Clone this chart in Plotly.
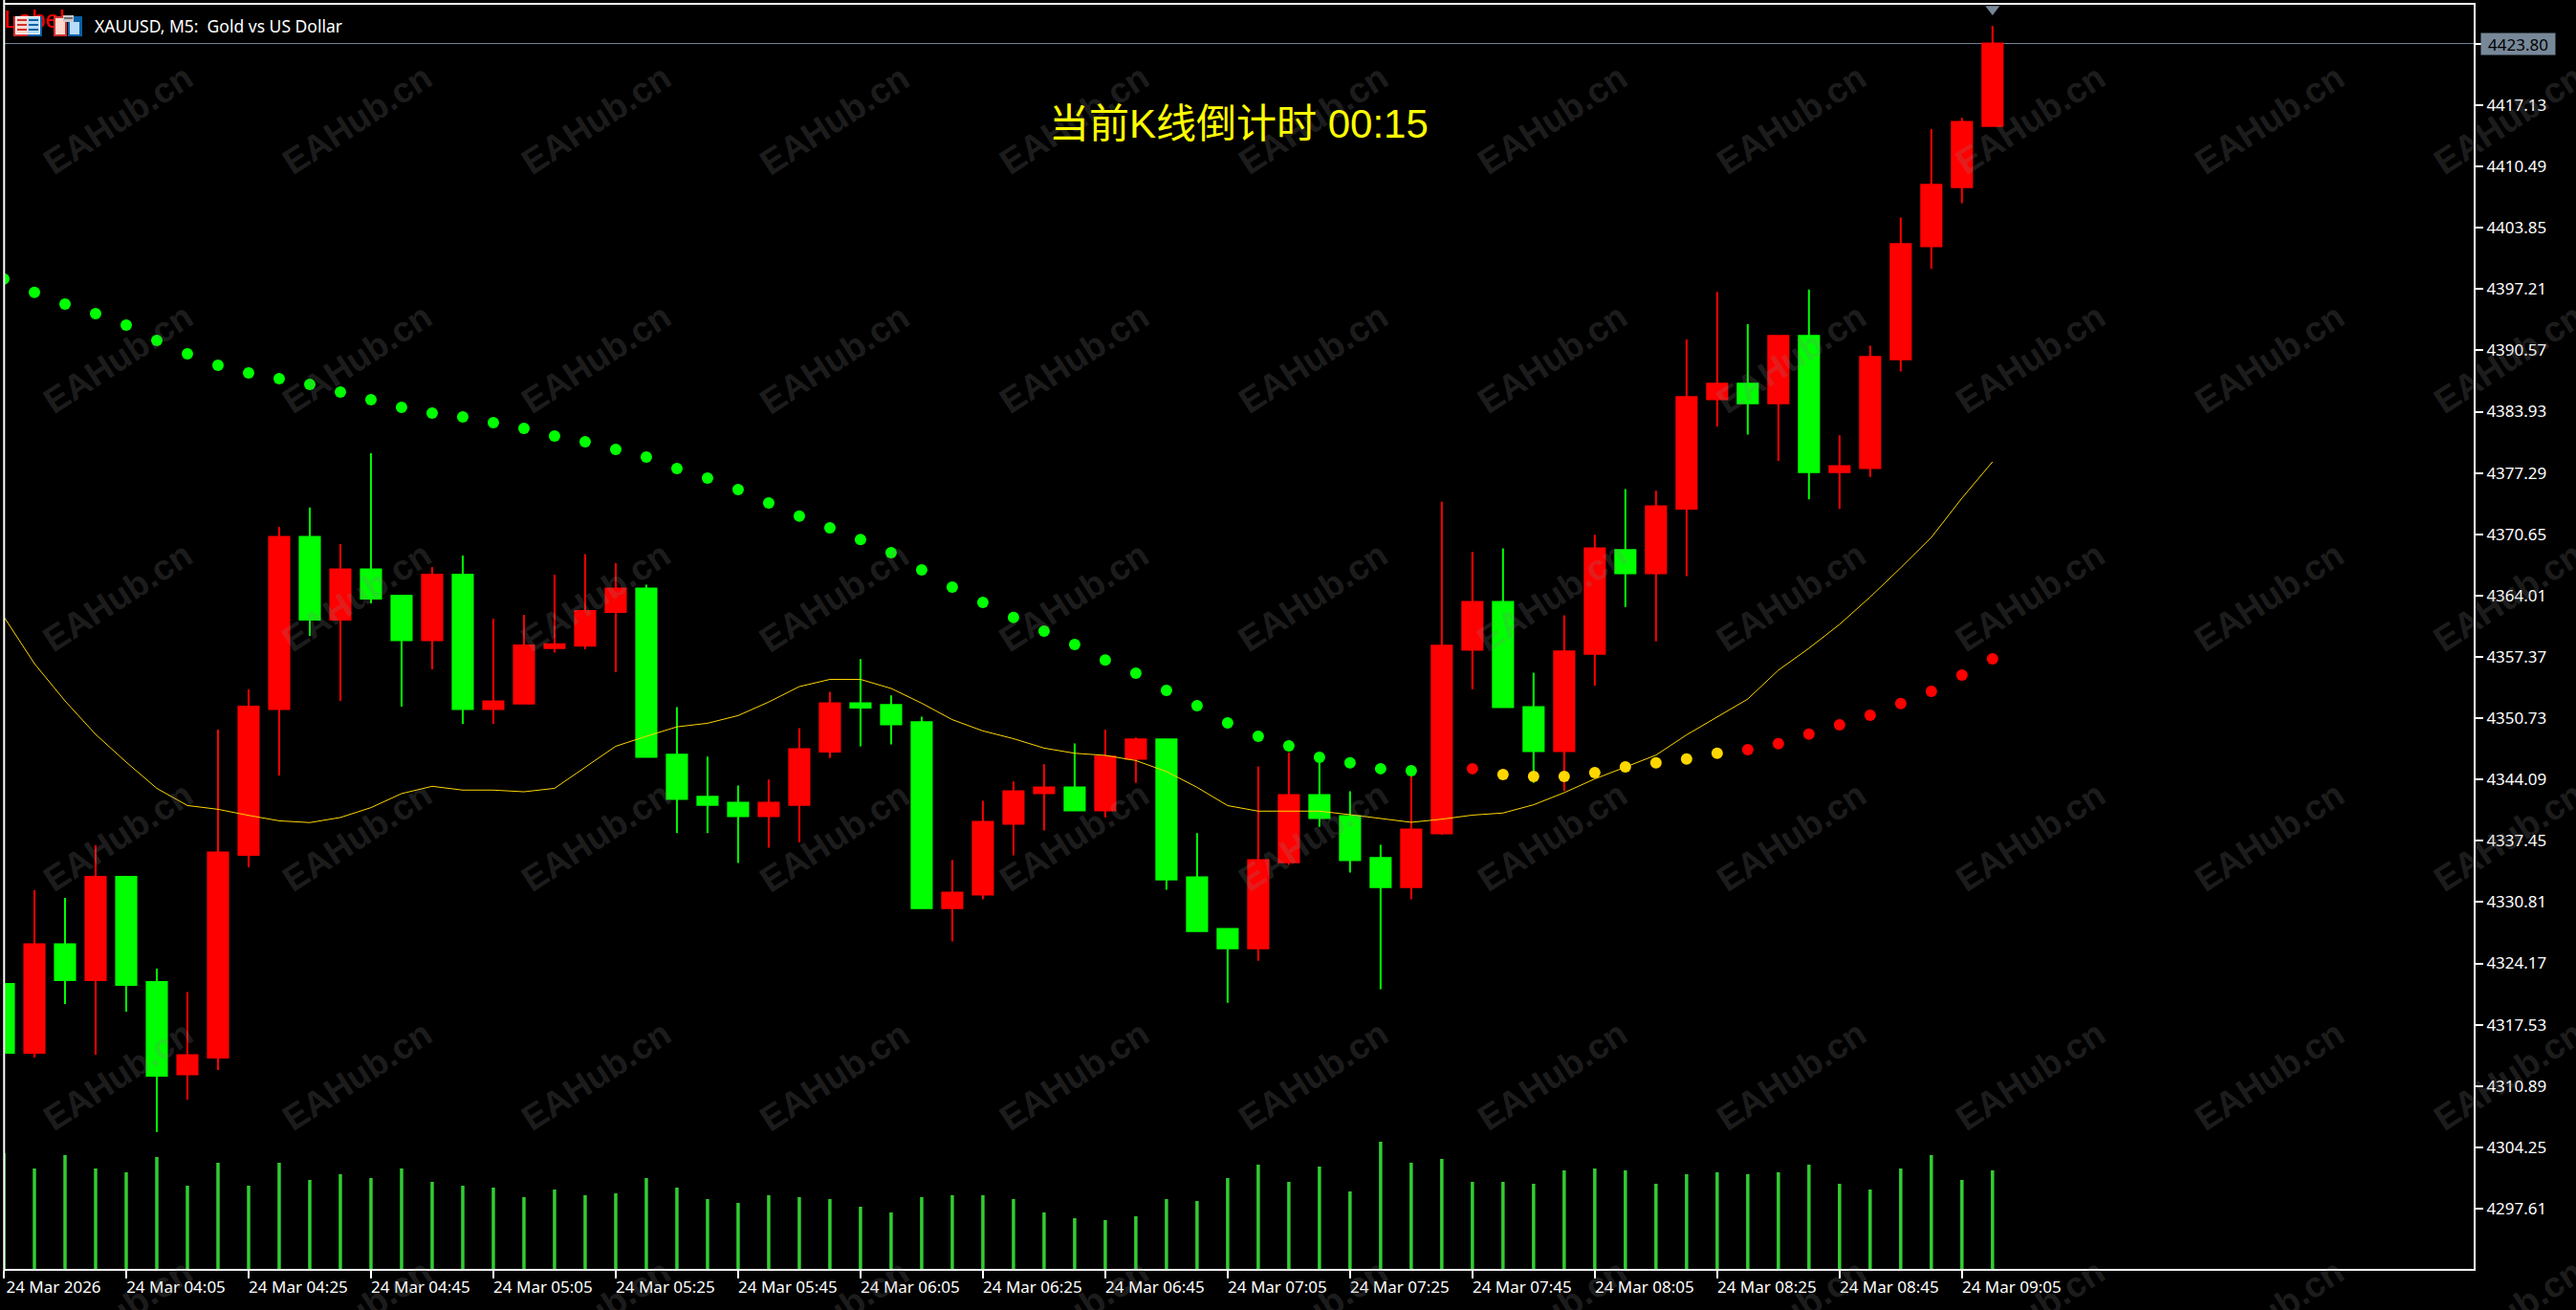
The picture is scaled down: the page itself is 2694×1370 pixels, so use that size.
import pandas as pd
import plotly.graph_objects as go

WIDTH, HEIGHT = 2694, 1370
LEFT, RIGHT, TOP, BOTTOM = 4, 2587, 5, 1327

# 5 minute bars, first one sits on the left edge of the window
times = pd.date_range("2026-03-24 03:45", periods=66, freq="5min")

opens = [4321.95, 4314.49, 4326.24, 4322.36, 4333.55, 4322.15, 4312.15, 4313.97, 4335.93, 4351.72, 4370.36,
         4361.41, 4366.84, 4364.00, 4359.17, 4366.27, 4351.72, 4352.32, 4358.33, 4358.57, 4362.24, 4364.76,
         4346.77, 4342.22, 4341.58, 4340.11, 4341.33, 4347.12, 4352.35, 4352.16, 4350.29, 4330.16, 4331.63,
         4339.28, 4342.61, 4343.24, 4340.74, 4346.34, 4348.44, 4333.49, 4327.90, 4325.80, 4335.12, 4342.41,
         4340.11, 4335.60, 4332.42, 4338.25, 4358.14, 4363.33, 4351.92, 4347.16, 4357.71, 4368.93, 4366.43,
         4373.42, 4385.28, 4386.95, 4384.84, 4392.13, 4377.37, 4377.81, 4389.61, 4401.85, 4408.25, 4414.87]
highs = [4321.95, 4332.10, 4331.27, 4336.96, 4333.55, 4323.60, 4321.07, 4349.50, 4353.85, 4371.45, 4373.54,
         4369.59, 4379.43, 4364.00, 4367.10, 4368.35, 4361.51, 4361.92, 4366.27, 4368.50, 4367.52, 4365.18,
         4351.92, 4346.58, 4343.44, 4344.08, 4349.66, 4353.59, 4357.12, 4353.19, 4350.89, 4335.36, 4341.78,
         4343.87, 4345.74, 4347.99, 4349.46, 4348.64, 4348.44, 4338.29, 4327.90, 4345.50, 4346.97, 4346.02,
         4342.81, 4337.02, 4344.91, 4374.16, 4368.73, 4369.12, 4355.65, 4361.87, 4370.59, 4375.54, 4375.35,
         4391.75, 4396.90, 4393.41, 4392.13, 4397.16, 4381.36, 4391.09, 4404.96, 4414.54, 4415.76, 4425.72]
lows = [4314.49, 4313.97, 4319.77, 4314.28, 4318.94, 4305.89, 4309.41, 4312.62, 4334.58, 4344.53, 4359.65,
        4352.60, 4363.17, 4351.98, 4356.02, 4350.12, 4350.12, 4352.23, 4357.82, 4358.20, 4355.71, 4346.45,
        4338.29, 4338.29, 4335.04, 4336.71, 4337.30, 4346.41, 4347.68, 4347.88, 4330.05, 4326.56, 4331.11,
        4335.87, 4338.57, 4340.63, 4339.99, 4343.72, 4332.15, 4327.66, 4319.90, 4324.45, 4334.84, 4338.96,
        4334.01, 4321.37, 4331.11, 4338.09, 4353.87, 4351.92, 4343.72, 4342.85, 4354.26, 4362.78, 4359.06,
        4366.11, 4382.29, 4381.44, 4378.60, 4374.42, 4373.38, 4376.85, 4388.28, 4399.42, 4406.51, 4414.77]
closes = [4314.49, 4326.24, 4322.36, 4333.55, 4321.84, 4312.00, 4314.22, 4336.19, 4351.98, 4370.36, 4361.41,
          4366.84, 4363.69, 4359.17, 4366.27, 4351.72, 4352.55, 4358.61, 4358.75, 4362.34, 4364.76, 4346.54,
          4341.98, 4341.33, 4340.11, 4341.58, 4347.36, 4352.35, 4351.88, 4350.06, 4330.16, 4331.83, 4339.51,
          4342.81, 4343.24, 4340.74, 4346.58, 4348.44, 4333.26, 4327.66, 4325.80, 4335.36, 4342.41, 4339.92,
          4335.36, 4332.42, 4338.68, 4358.58, 4363.33, 4351.92, 4347.16, 4357.95, 4369.12, 4366.43, 4373.68,
          4385.51, 4386.95, 4384.84, 4392.13, 4377.37, 4378.04, 4389.87, 4402.08, 4408.51, 4415.31, 4423.80]

ma_line = [4361.72, 4356.64, 4352.60, 4348.98, 4345.97, 4343.13, 4341.27, 4340.86, 4340.20, 4339.61, 4339.42,
           4339.97, 4341.04, 4342.56, 4343.35, 4342.94, 4342.94, 4342.76, 4343.13, 4345.38, 4347.69, 4348.77,
           4349.79, 4350.18, 4351.01, 4352.48, 4354.15, 4354.93, 4354.93, 4353.95, 4352.35, 4350.57, 4349.35,
           4348.51, 4347.49, 4346.93, 4346.70, 4346.14, 4344.95, 4343.24, 4341.26, 4340.66, 4340.63, 4340.66,
           4340.28, 4339.88, 4339.45, 4339.79, 4340.23, 4340.46, 4341.35, 4342.66, 4344.15, 4345.43, 4346.73,
           4348.92, 4350.89, 4352.80, 4355.93, 4358.30, 4360.89, 4363.85, 4367.02, 4370.31, 4374.56, 4378.50]

dots = [4398.31, 4396.86, 4395.58, 4394.55, 4393.31, 4391.65, 4390.20, 4388.96, 4388.13, 4387.51, 4386.88,
        4386.06, 4385.23, 4384.40, 4383.78, 4383.36, 4382.74, 4382.12, 4381.29, 4380.67, 4379.84, 4379.01,
        4377.77, 4376.73, 4375.50, 4374.04, 4372.61, 4371.35, 4370.08, 4368.66, 4366.79, 4364.93, 4363.27,
        4361.63, 4360.16, 4358.71, 4357.04, 4355.61, 4353.74, 4352.09, 4350.22, 4348.77, 4347.74, 4346.49,
        4345.90, 4345.26, 4345.04, 4345.15, 4345.26, 4344.63, 4344.43, 4344.43, 4344.84, 4345.46, 4345.90,
        4346.30, 4346.93, 4347.32, 4347.96, 4348.99, 4350.02, 4351.05, 4352.32, 4353.64, 4355.40, 4357.16]
dot_colors = ["#00FF00"] * 47 + ["#FF0000"] * 2 + ["#FFD700"] * 8 + ["#FF0000"] * 9

volumes = [363, 315, 357, 315, 303, 351, 261, 333, 261, 333, 279, 297, 285, 315, 273, 261, 255, 225, 249, 231,
           237, 285, 255, 219, 207, 231, 225, 219, 195, 177, 225, 231, 231, 219, 177, 159, 153, 165, 219, 213,
           285, 327, 273, 321, 243, 399, 333, 345, 273, 273, 267, 309, 315, 309, 267, 297, 303, 297, 303, 327,
           267, 249, 315, 357, 279, 309]

price_ticks = [4417.13, 4410.49, 4403.85, 4397.21, 4390.57, 4383.93, 4377.29, 4370.65, 4364.01, 4357.37, 4350.73,
               4344.09, 4337.45, 4330.81, 4324.17, 4317.53, 4310.89, 4304.25, 4297.61]
current_price = 4423.80
time_labels = ["24 Mar 2026", "24 Mar 04:05", "24 Mar 04:25", "24 Mar 04:45", "24 Mar 05:05", "24 Mar 05:25",
               "24 Mar 05:45", "24 Mar 06:05", "24 Mar 06:25", "24 Mar 06:45", "24 Mar 07:05", "24 Mar 07:25",
               "24 Mar 07:45", "24 Mar 08:05", "24 Mar 08:25", "24 Mar 08:45", "24 Mar 09:05"]

FONT = "Noto Sans, DejaVu Sans, sans-serif"


# pixel helpers for the bits of chrome that are not data
def px_x(x):
    return (x - LEFT) / (RIGHT - LEFT)


def px_y(y):
    return 1 - (y - TOP) / (BOTTOM - TOP)


fig = go.Figure()

# volume goes on a hidden axis so it stays at the bottom of the window
fig.add_trace(go.Bar(x=times, y=volumes, yaxis="y2", width=32800, marker=dict(color="#32CD32", line_width=0)))
fig.add_trace(go.Candlestick(
    x=times, open=opens, high=highs, low=lows, close=closes, whiskerwidth=0,
    increasing=dict(line=dict(color="#FF0000", width=2), fillcolor="#FF0000"),
    decreasing=dict(line=dict(color="#00FF00", width=2), fillcolor="#00FF00"),
))
fig.add_trace(go.Scatter(x=times, y=ma_line, mode="lines", line=dict(color="#FFD700", width=1)))
fig.add_trace(go.Scatter(x=times, y=dots, mode="markers", marker=dict(color=dot_colors, size=12, line_width=0)))
# arrow above the running bar
fig.add_trace(go.Scatter(x=[times[-1]], y=[4427.53], mode="markers",
                         marker=dict(symbol="triangle-down", size=13, color="#778899", line_width=0)))
# stray label object, mostly hidden behind the toolbar icons
fig.add_trace(go.Scatter(x=[times[0]], y=[4426.14], mode="text", text=["Label"], textposition="middle right",
                         textfont=dict(family="Liberation Sans", size=26, color="#FF0000")))

shapes = [
    dict(type="line", xref="paper", x0=0, x1=1, yref="y", y0=current_price, y1=current_price,
         line=dict(color="#778899", width=1), layer="below"),
    # left edge of the window frame
    dict(type="line", xref="paper", yref="paper", x0=px_x(4.3), x1=px_x(4.3), y0=-0.002, y1=1.004,
         line=dict(color="#FFFFFF", width=2), layer="above"),
]

# toolbar icons: (x0, y0, x1, y1, fill)
icon_rects = [
    (14, 17, 29, 38, "#D03030"), (29, 17, 44, 38, "#0860A8"),
    (16, 17, 29, 36, "#FFFFFF"), (29, 17, 42, 36, "#FFFFFF"),
    (17, 18, 29, 35, "#F8D8D0"), (29, 18, 41, 35, "#B8DCF8"),
    (18, 20, 28, 22, "#D03030"), (18, 25, 28, 27, "#D03030"), (18, 30, 28, 32, "#D03030"),
    (30, 20, 40, 22, "#0860A8"), (30, 25, 40, 27, "#0860A8"), (30, 30, 40, 32, "#0860A8"),
    (56, 17, 70, 38, "#D03030"), (58, 19, 68, 36, "#FFD8D0"),
    (71, 17, 86, 38, "#0860A8"), (73, 23, 83, 36, "#B8DCF8"),
    (66, 16, 77, 23, "#C8C8C8"), (67, 18, 76, 20, "#707070"),
]
for x0, y0, x1, y1, fill in icon_rects:
    shapes.append(dict(type="rect", xref="paper", yref="paper", x0=px_x(x0), x1=px_x(x1), y0=px_y(y1), y1=px_y(y0),
                       fillcolor=fill, line_width=0, layer="above"))

annotations = []
# watermark tiles
for col in range(0, 11):
    for row in range(0, 6):
        annotations.append(dict(
            text="<b>EAHub.cn</b>", xref="paper", yref="paper", x=px_x(123 + 250 * col), y=px_y(125 + 250 * row),
            xanchor="center", yanchor="middle", textangle=-33, showarrow=False,
            font=dict(family="Liberation Sans", size=37, color="rgba(128,128,128,0.24)"),
        ))
annotations.append(dict(
    text="XAUUSD, M5:\u00a0\u00a0Gold vs US Dollar", xref="paper", yref="paper", x=px_x(97), y=px_y(27),
    xanchor="left", yanchor="middle", showarrow=False, font=dict(family=FONT, size=17.5, color="#FFFFFF"),
))
annotations.append(dict(
    text="当前K线倒计时 00:15", xref="paper", yref="paper", x=px_x(1295), y=px_y(129),
    xanchor="center", yanchor="middle", showarrow=False,
    font=dict(family="Liberation Sans, Noto Sans CJK SC", size=42, color="#FFFF00"),
))
annotations.append(dict(
    text=f"{current_price:.2f}", xref="paper", yref="y", x=px_x(2594), y=current_price,
    xanchor="left", yanchor="middle", showarrow=False, width=77, height=22, bgcolor="#778899", borderpad=0,
    font=dict(family=FONT, size=17, color="#000000"),
))

axis_line = dict(showline=True, linecolor="#FFFFFF", linewidth=2, showgrid=False, zeroline=False,
                 ticks="outside", ticklen=8, tickwidth=2, tickcolor="#FFFFFF",
                 tickfont=dict(family=FONT, size=17, color="#FFFFFF"))

fig.update_layout(
    width=WIDTH, height=HEIGHT, margin=dict(l=LEFT, r=WIDTH - RIGHT, t=TOP, b=HEIGHT - BOTTOM),
    paper_bgcolor="#000000", plot_bgcolor="#000000", showlegend=False, boxgap=0.34, boxgroupgap=0,
    xaxis=dict(type="date", range=["2026-03-24 03:45:00", "2026-03-24 10:28:38"], rangeslider=dict(visible=False),
               tickmode="array", tickvals=list(times[::4]), ticktext=time_labels, ticklabelshift=52,
               ticklabelstandoff=-5, mirror=True, **axis_line),
    yaxis=dict(side="right", range=[4291.08, 4428.00], tickmode="array", tickvals=[current_price] + price_ticks,
               ticktext=[""] + [f"{p:.2f}" for p in price_ticks], **axis_line),
    yaxis2=dict(overlaying="y", side="right", range=[0, 3966], visible=False),
    shapes=shapes, annotations=annotations,
)

fig.write_html("out.html", config=dict(displayModeBar=False),
               post_script="document.body.style.margin='0';document.body.style.overflow='hidden';")
